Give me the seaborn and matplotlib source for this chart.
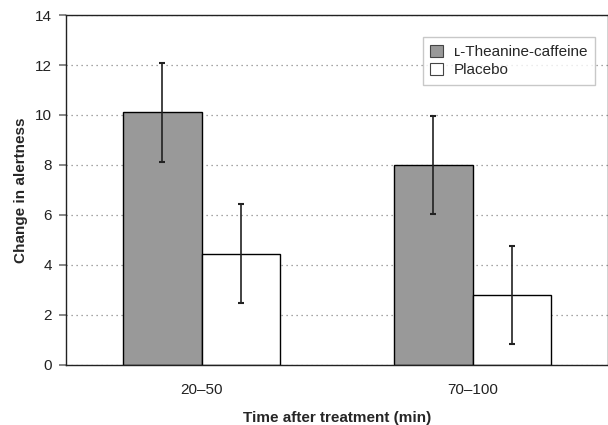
import numpy as np
import pandas as pd
import matplotlib
matplotlib.use("Agg")
import matplotlib.pyplot as plt
from matplotlib.patches import Patch
import seaborn as sns

# values
zamanlar = ["20\u201350", "70\u2013100"]
gruplar = ["\u029f-Theanine-caffeine", "Placebo"]
theanine = [10.1, 8.0]
theanine_err = [2.0, 1.95]
placebo = [4.45, 2.8]
placebo_err = [1.97, 1.97]
y_ticks = [0, 2, 4, 6, 8, 10, 12, 14]

sns.set_theme(style="white")
plt.rcParams["font.family"] = ["Liberation Sans", "DejaVu Sans"]

df = pd.DataFrame({
    "Zaman": zamanlar * 2,
    "Grup": [gruplar[0]] * 2 + [gruplar[1]] * 2,
    "Deger": theanine + placebo,
    "Hata": theanine_err + placebo_err,
})

renkler = {gruplar[0]: "#999999", gruplar[1]: "#ffffff"}

fig = plt.figure(figsize=(6.08, 4.25), dpi=100)
ax = fig.add_axes([0.1086, 0.1412, 0.8914, 0.8235])

sns.barplot(data=df, x="Zaman", y="Deger", hue="Grup", order=zamanlar,
            hue_order=gruplar, palette=renkler, errorbar=None, width=0.58,
            gap=0, edgecolor="black", linewidth=1.0, saturation=1,
            legend=False, ax=ax, zorder=2)

# error bars at the bar centres seaborn computed
bars = ax.patches
hatalar = theanine_err + placebo_err
for bar, err in zip(bars, hatalar):
    cx = bar.get_x() + bar.get_width() / 2
    ax.errorbar(cx, bar.get_height(), yerr=err, fmt="none", ecolor="#222222",
                elinewidth=1.2, capsize=2.5, capthick=1.5, zorder=3)

ax.set_xlim(-0.5, 1.5)
ax.set_ylim(0, 14)
ax.set_yticks(y_ticks)
ax.yaxis.grid(True, linestyle=(0, (1, 3)), color="#888888", linewidth=0.9)
ax.set_axisbelow(True)

ax.set_xticks([0, 1])
ax.set_xticks([0.5], minor=True)
ax.tick_params(axis="x", which="major", length=0, pad=13, labelsize=11, colors="#222222")
ax.tick_params(axis="x", which="minor", length=3, direction="out", color="#999999")
ax.tick_params(axis="y", length=5, direction="out", labelsize=11, left=True, pad=5,
               colors="#222222", color="#777777")

for s in ax.spines.values():
    s.set_color("#222222")
    s.set_linewidth(1.0)

ax.set_xlabel("Time after treatment (min)", fontsize=11, fontweight="bold", labelpad=10)
ax.set_ylabel("Change in alertness", fontsize=11, fontweight="bold", labelpad=5)

handles = [Patch(facecolor=renkler[g], edgecolor="#444444", linewidth=0.8, label=g)
           for g in gruplar]
leg = ax.legend(handles=handles, loc="upper right", bbox_to_anchor=(0.976, 0.937),
                fontsize=11, frameon=True, fancybox=False, handlelength=0.85,
                handleheight=0.85, handletextpad=0.7, borderpad=0.5,
                labelspacing=0.25, borderaxespad=0)
leg.get_frame().set_edgecolor("#bbbbbb")
leg.get_frame().set_linewidth(1.0)

fig.savefig("out.png", dpi=100)
plt.close(fig)
